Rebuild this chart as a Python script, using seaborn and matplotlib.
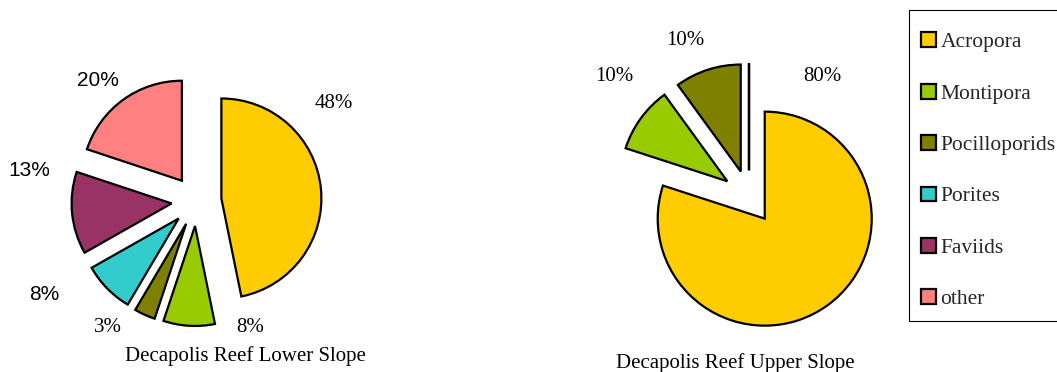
import matplotlib
matplotlib.use("Agg")
import matplotlib.pyplot as plt
from matplotlib.patches import Rectangle
import seaborn as sns

categories = ["Acropora", "Montipora", "Pocilloporids", "Porites", "Faviids", "other"]
# slice shares as drawn and the printed labels
lower_slope = [46.8, 8.3, 3.4, 8.3, 13.3, 19.9]
lower_labels = ["48%", "8%", "3%", "8%", "13%", "20%"]
upper_slope = [80, 10, 10, 0, 0, 0]
upper_labels = ["80%", "10%", "10%", None, None, None]
colours = sns.color_palette(["#FFCC00", "#99CC00", "#808000", "#33CCCC", "#993366", "#FF8080"])

titles = ["Decapolis Reef Lower Slope", "Decapolis Reef Upper Slope"]

# label spots in pie-radius units (Excel put them by hand, so no formula)
lower_label_pos = [(1.37, 0.98), (0.54, -1.27), (-0.89, -1.27), (-1.52, -0.93), (-1.67, 0.31), (-0.99, 1.21)]
lower_label_font = ["serif", "serif", "serif", "sans", "sans", "sans"]
upper_label_pos = [(0.69, 1.13), (-1.26, 1.13), (-0.60, 1.46), None, None, None]

sns.set_theme(style="white")
plt.rcParams["font.family"] = ["Liberation Serif", "DejaVu Serif"]
SERIF = ["Liberation Serif", "DejaVu Serif"]
SANS = ["Liberation Sans", "DejaVu Sans"]

W, H = 1057, 372
fig = plt.figure(figsize=(W / 100, H / 100), dpi=100)


def pie_panel(x0, x1, cx, cy, r, values, labels, label_pos, fonts, title, title_pos):
    ax = fig.add_axes([x0 / W, 0, (x1 - x0) / W, 1])
    wedges, _ = ax.pie(values, colors=colours, startangle=90, counterclock=False,
                       explode=[0.25] * len(values),
                       wedgeprops=dict(edgecolor="black", linewidth=1.6))
    ax.set_aspect("auto")
    ax.set_xlim((x0 - cx) / r, (x1 - cx) / r)
    ax.set_ylim((cy - H) / r, cy / r)
    ax.axis("off")
    for lab, pos, f in zip(labels, label_pos, fonts):
        if lab is None:
            continue
        ax.text(pos[0], pos[1], lab, ha="center", va="center", fontsize=15,
                family=SANS if f == "sans" else SERIF, color="black")
    ax.text(title_pos[0], title_pos[1], title, ha="center", va="center",
            fontsize=15, family=SERIF, color="black")
    return wedges


wedges = pie_panel(0, 450, 196.5, 201, 100, lower_slope, lower_labels, lower_label_pos,
                   lower_label_font, titles[0], (0.485, -1.55))
pie_panel(450, 905, 749, 197, 107, upper_slope, upper_labels, upper_label_pos,
          ["serif"] * 6, titles[1], (-0.13, -1.55))

# legend box drawn on its own so the padding can differ per side
fig.patches.append(Rectangle((909 / W, 1 - 321 / H), 160 / W, 311 / H,
                             transform=fig.transFigure, facecolor="white",
                             edgecolor="black", linewidth=0.8, zorder=0))
fig.legend(wedges, categories, loc="upper left",
           bbox_to_anchor=(921 / W, 1 - 32.4 / H), borderaxespad=0, borderpad=0,
           frameon=False, fontsize=15.5, labelspacing=1.46, handlelength=0.68,
           handleheight=0.68, handletextpad=0.22)

fig.savefig("out.png", dpi=100, facecolor="white")
